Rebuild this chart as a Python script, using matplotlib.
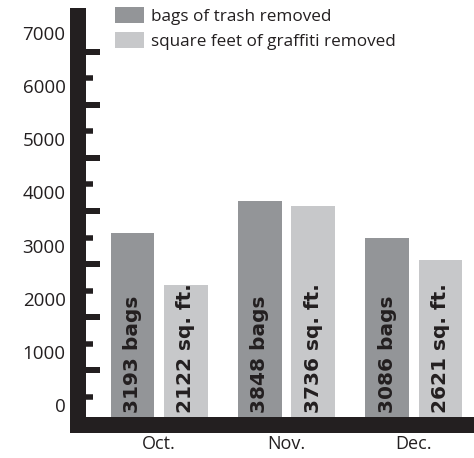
import numpy as np
import matplotlib
matplotlib.use('Agg')
import matplotlib.pyplot as plt
from matplotlib.patches import Patch

plt.rcParams['font.family'] = ['Open Sans', 'DejaVu Sans']

months = ['Oct.', 'Nov.', 'Dec.']
bags = [3193, 3848, 3086]
sqft = [2122, 3736, 2621]
bag_labels = ['3193 bags', '3848 bags', '3086 bags']
sqft_labels = ['2122 sq. ft.', '3736 sq. ft.', '2621 sq. ft.']
tick_values = [0, 1000, 2000, 3000, 4000, 5000, 6000, 7000]
series_names = ['bags of trash removed', 'square feet of graffiti removed']

DARK = '#939598'
LIGHT = '#c7c8ca'
INK = '#231f20'

W, H = 474, 458
fig = plt.figure(figsize=(W / 100, H / 100), dpi=100)
# axes box in pixels: left 78, right 474, top 16, bottom 425
ax = fig.add_axes([78 / W, (H - 425) / H, 396 / W, 409 / H])

# bar scale (bars are drawn up from the axis line)
ylo, yhi = -760, 7643
ax.set_ylim(ylo, yhi)
ax.set_xlim(-0.638, 2.473)

x = np.arange(len(months))
bw, off = 0.343, 0.21
ax.bar(x - off, np.array(bags) - ylo, bottom=ylo, width=bw, color=DARK, zorder=2)
ax.bar(x + off, np.array(sqft) - ylo, bottom=ylo, width=bw, color=LIGHT, zorder=2)

# in-bar labels: wide bold face to get the long, letter-spaced look
tr = ax.get_xaxis_transform()
for xi, lb in zip(x - off, bag_labels):
    ax.text(xi, 0.03, lb, rotation=90, ha='center', va='bottom', transform=tr,
            family='DejaVu Sans', fontsize=14.5, fontweight='bold', color=INK, zorder=3)
for xi, lb in zip(x + off, sqft_labels):
    ax.text(xi, 0.03, lb, rotation=90, ha='center', va='bottom', transform=tr,
            family='DejaVu Sans', fontsize=14.5, fontweight='bold', color=INK, zorder=3)

ax.set_xticks(x)
ax.set_xticklabels(months, fontsize=13, color=INK)
ax.tick_params(axis='x', length=0, pad=7)
ax.set_yticks([])

for s in ['top', 'right']:
    ax.spines[s].set_visible(False)
for s in ['left', 'bottom']:
    ax.spines[s].set_linewidth(16 * 0.72)
    ax.spines[s].set_color(INK)
    ax.spines[s].set_capstyle('projecting')
    ax.spines[s].set_zorder(5)

# label scale for the value ticks
ax2 = ax.twinx()
ax2.set_ylim(-376, 7320)
ax2.yaxis.tick_left()
ax2.set_yticks(tick_values)
ax2.set_yticklabels([str(v) for v in tick_values], fontsize=13.5, color=INK)
ax2.tick_params(axis='y', length=0, pad=9)
for s in ax2.spines.values():
    s.set_visible(False)

# decorative comb ticks on the inner side of the axis
ytr = ax2.get_yaxis_transform()
long_ticks = [v + 650 for v in tick_values[:-1]]
short_ticks = [v + 150 for v in tick_values[:-1]]
ax2.hlines(long_ticks, 0, 22 / 396, transform=ytr, color=INK, lw=6 * 0.72,
           capstyle='butt', zorder=6)
ax2.hlines(short_ticks, 0, 15 / 396, transform=ytr, color=INK, lw=5.5 * 0.72,
           capstyle='butt', zorder=6)

handles = [Patch(facecolor=DARK, edgecolor='none'), Patch(facecolor=LIGHT, edgecolor='none')]
fig.legend(handles, series_names, loc='upper left', bbox_to_anchor=(115 / W, 1 - 7 / H),
           frameon=False, fontsize=12.3, handlelength=1.7, handleheight=1.05,
           handletextpad=0.4, labelspacing=0.42, borderpad=0, borderaxespad=0,
           labelcolor=INK)

fig.savefig('out.png', dpi=100)
